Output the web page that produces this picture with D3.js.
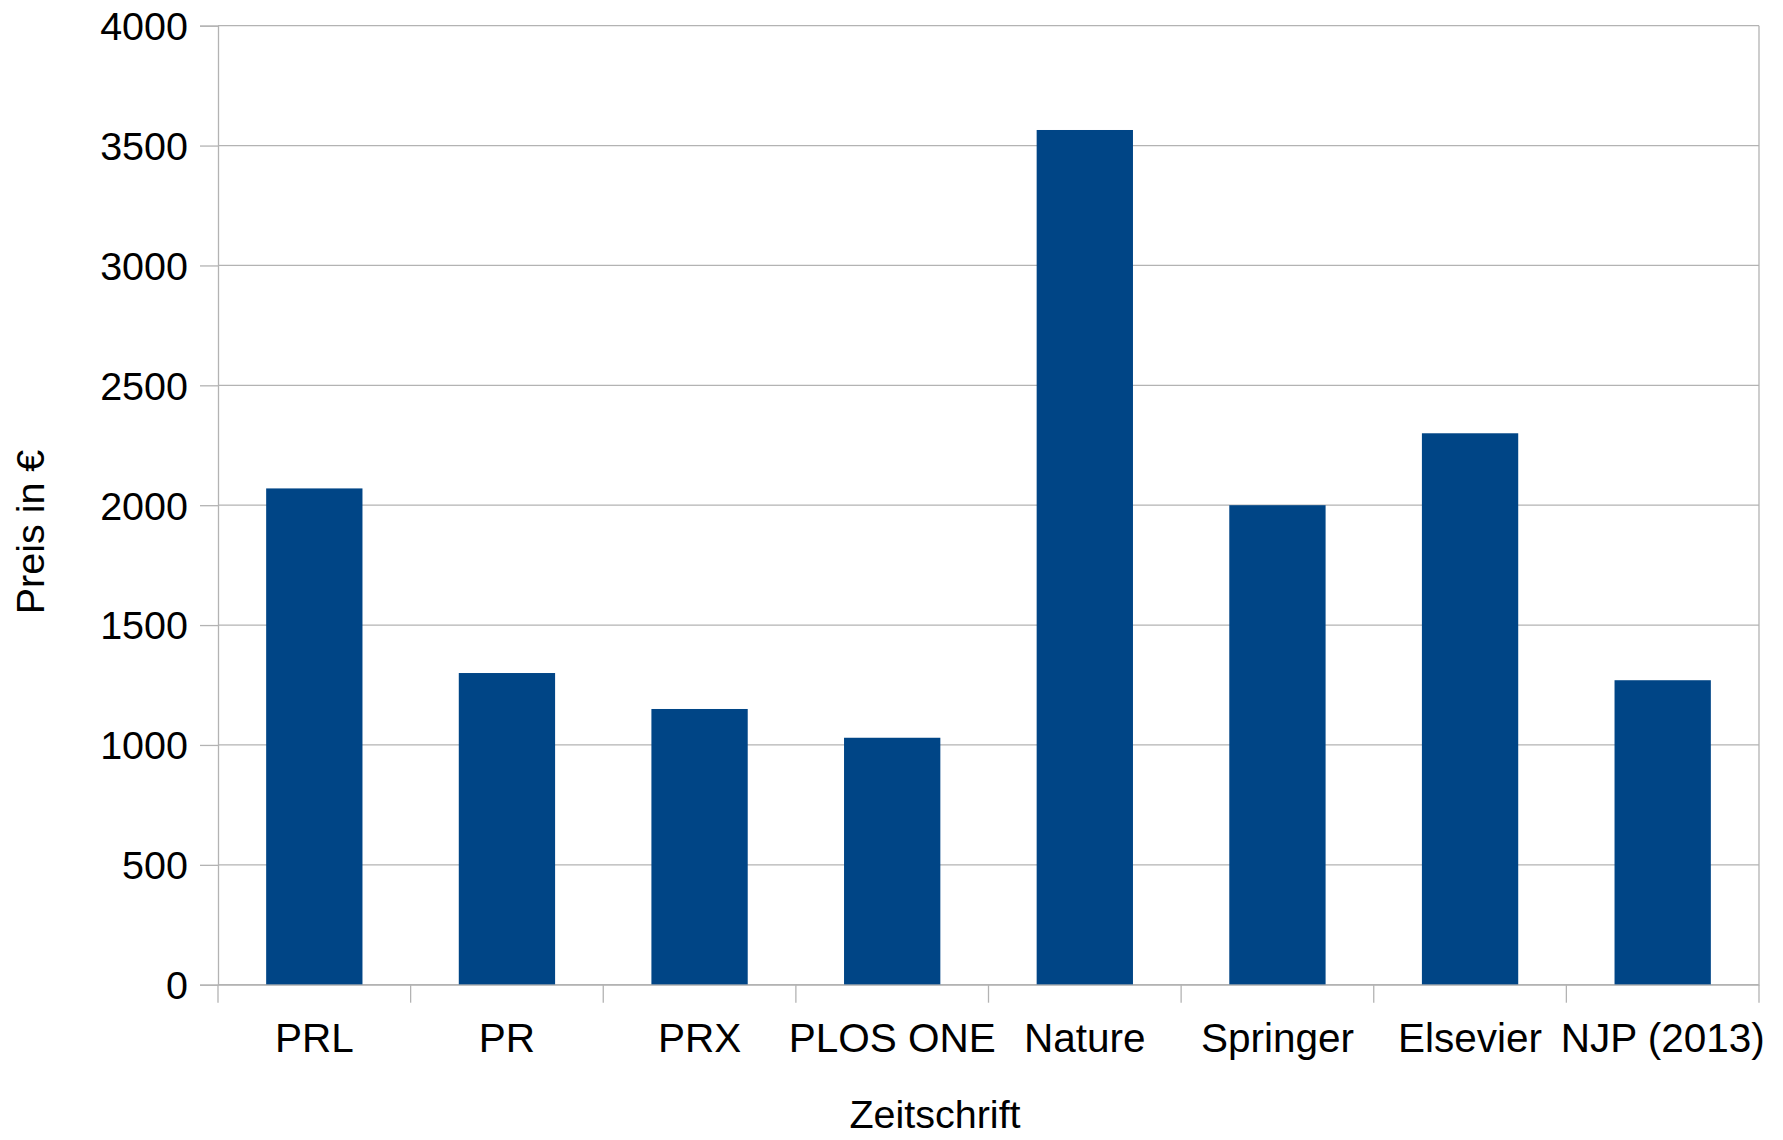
<!DOCTYPE html>
<html>
<head>
<meta charset="utf-8">
<script src="https://cdn.jsdelivr.net/npm/d3@7"></script>
<style>
	body{margin:0;background:#fff;}
	text{font-family:"Liberation Sans", Arial, sans-serif;fill:#000;}
</style>
</head>
<body>
<svg id="chart" width="1783" height="1140"></svg>
<script>
// journals and publication price (EUR)
const journals = ["PRL", "PR", "PRX", "PLOS ONE", "Nature", "Springer", "Elsevier", "NJP (2013)"];
const prices = [2070, 1300, 1150, 1030, 3565, 2000, 2300, 1270];
const yTicks = [0, 500, 1000, 1500, 2000, 2500, 3000, 3500, 4000];

const svg = d3.select("#chart"),
	plotLeft = 218, plotRight = 1759, plotTop = 25.7, plotBottom = 984.7,
	fontSize = 40.5,
	grey = "#b3b3b3";

let x = d3.scaleBand().domain(journals).range([plotLeft, plotRight]).paddingInner(0.5).paddingOuter(0.25),
	y = d3.scaleLinear().domain([0, 4000]).range([plotBottom, plotTop]);

// gridlines
svg.append("g").selectAll("line")
	.data(yTicks)
	.enter().append("line")
	.attr("x1", plotLeft).attr("x2", plotRight)
	.attr("y1", d => y(d)).attr("y2", d => y(d))
	.attr("stroke", grey).attr("stroke-width", 1.3);

// y axis
let yAxis = svg.append("g")
	.attr("transform", "translate(" + plotLeft + ",0)")
	.call(d3.axisLeft(y).tickValues(yTicks).tickFormat(d3.format("d")).tickSize(18).tickPadding(12));
yAxis.select(".domain").attr("stroke", grey).attr("stroke-width", 1.3);
yAxis.selectAll(".tick line").attr("stroke", grey).attr("stroke-width", 1.3);
yAxis.selectAll(".tick text").style("font-size", "39.5px").attr("dy", "0.35em");

// right border
svg.append("line")
	.attr("x1", plotRight).attr("x2", plotRight).attr("y1", plotTop).attr("y2", plotBottom)
	.attr("stroke", grey).attr("stroke-width", 1.3);

// bars
svg.append("g").selectAll("rect")
	.data(journals)
	.enter().append("rect")
	.attr("x", d => x(d))
	.attr("width", x.bandwidth())
	.attr("y", (d, i) => y(prices[i]))
	.attr("height", (d, i) => y(0) - y(prices[i]))
	.attr("fill", "#004586");

// x axis
let xAxis = svg.append("g")
	.attr("transform", "translate(0," + plotBottom + ")")
	.call(d3.axisBottom(x).tickSize(0).tickSizeOuter(0));
xAxis.select(".domain").attr("stroke", grey).attr("stroke-width", 1.3);
xAxis.selectAll(".tick text").style("font-size", fontSize + "px").attr("y", 67).attr("dy", 0);

// category boundary ticks
let bounds = d3.range(journals.length + 1).map(i => plotLeft + i * x.step());
xAxis.append("g").selectAll("line")
	.data(bounds)
	.enter().append("line")
	.attr("x1", d => d).attr("x2", d => d)
	.attr("y1", 0).attr("y2", 18)
	.attr("stroke", grey).attr("stroke-width", 1.3);

// axis titles
svg.append("text")
	.attr("x", 935).attr("y", 1128)
	.attr("text-anchor", "middle")
	.style("font-size", "39.5px")
	.text("Zeitschrift");

svg.append("text")
	.attr("transform", "translate(44,532) rotate(-90)")
	.attr("text-anchor", "middle")
	.style("font-size", "39.5px")
	.text("Preis in €");
</script>
</body>
</html>
